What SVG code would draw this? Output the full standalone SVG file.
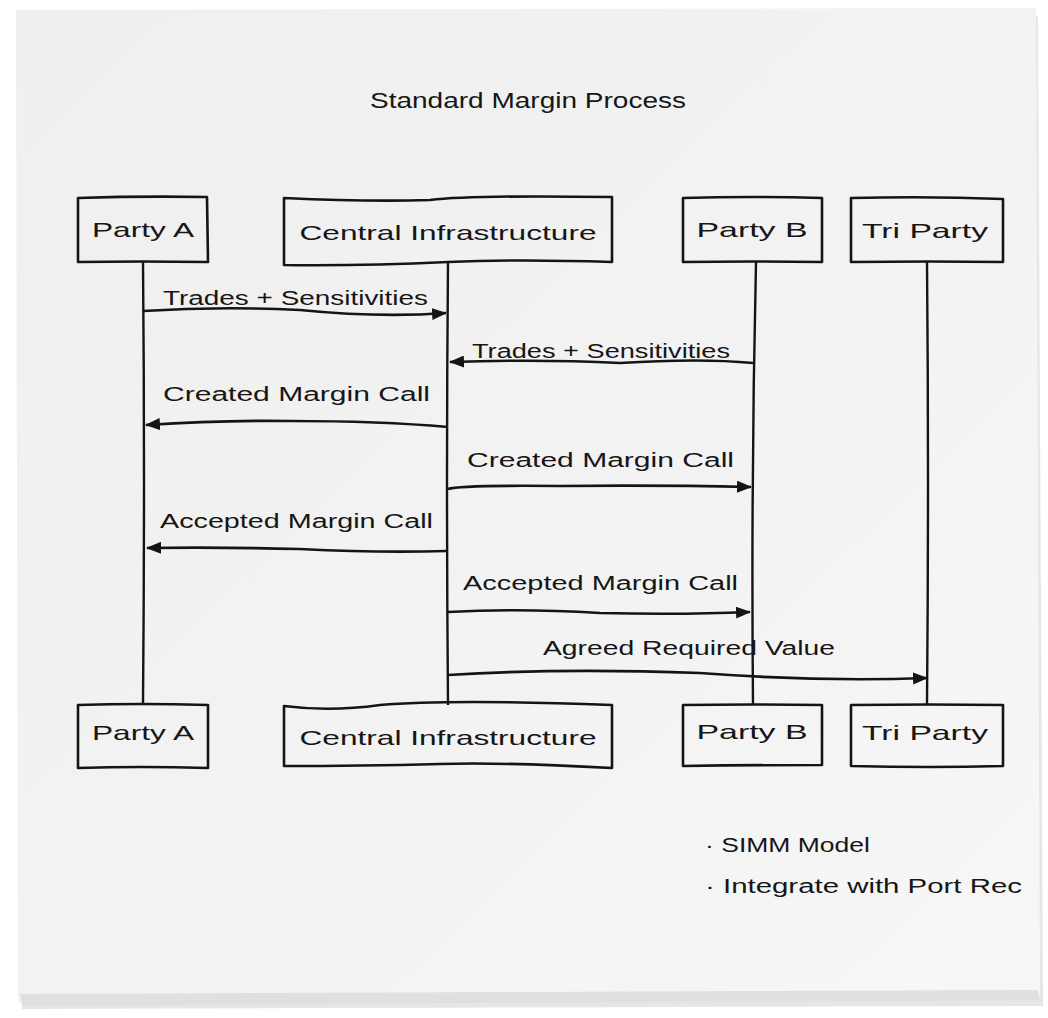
<svg xmlns="http://www.w3.org/2000/svg" width="1048" height="1018" viewBox="0 0 1048 1018">
<style>
.box{fill:none;stroke:#141414;stroke-width:2.6;stroke-linejoin:round}
.life{fill:none;stroke:#141414;stroke-width:2.4}
.msg{fill:none;stroke:#141414;stroke-width:2.6;marker-end:url(#ah)}
text{font-family:"Liberation Sans","DejaVu Sans",sans-serif;fill:#161616}
.lbl{font-size:21px;text-anchor:middle}
.ml{font-size:20px}
</style>
<defs>
<marker id="ah" markerWidth="15" markerHeight="12" refX="14" refY="6" orient="auto" markerUnits="userSpaceOnUse">
<path d="M0,0 L15,6 L0,12 Z" fill="#141414"/>
</marker>
<linearGradient id="nap" x1="0" y1="0" x2="1" y2="1">
<stop offset="0" stop-color="#efefef"/>
<stop offset="0.6" stop-color="#f3f3f3"/>
<stop offset="1" stop-color="#f7f7f7"/>
</linearGradient>
</defs>
<rect x="0" y="0" width="1048" height="1018" fill="#ffffff"/>
<g id="napkin">
<path d="M18,12 L1036,10 L1041,1000 L20,1003 Z" fill="#c9c7c5" transform="translate(2,6)" opacity="0.45"/>
<path d="M16,10 L1036,8 L1040,998 L18,1003 Z" fill="url(#nap)"/>
<path d="M20,994 L1038,990 L1040,1000 L22,1006 Z" fill="#e2e0de"/>
</g>
<text x="528" y="108" style="font-size:22px;text-anchor:middle" textLength="316" lengthAdjust="spacingAndGlyphs">Standard Margin Process</text>
<g id="connectors">
<path class="life" d="M143,262 Q145,480 143,705"/>
<path class="life" d="M448,262 Q446,480 448,705"/>
<path class="life" d="M756,262 Q751,480 753,705"/>
<path class="life" d="M927,262 Q929,480 927,705"/>
<path class="msg" d="M143,311 Q220,306 300,310 Q380,318 446,313"/>
<path class="msg" d="M753,363 Q700,358 620,363 Q540,359 450,362"/>
<path class="msg" d="M448,427 Q380,421 290,421 Q220,420 146,425"/>
<path class="msg" d="M448,489 Q460,485 560,486 Q660,485 751,487"/>
<path class="msg" d="M446,551 Q380,553 300,549 Q220,547 147,548"/>
<path class="msg" d="M448,612 Q520,608 600,613 Q680,615 750,612"/>
<path class="msg" d="M448,675 Q560,668 700,673 Q820,682 927,678"/>
</g>
<g id="m1"><text class="ml" x="163" y="305" textLength="265" lengthAdjust="spacingAndGlyphs">Trades + Sensitivities</text></g>
<g id="m2"><text class="ml" x="472" y="358" textLength="258" lengthAdjust="spacingAndGlyphs">Trades + Sensitivities</text></g>
<g id="m3"><text class="ml" x="163" y="401" textLength="267" lengthAdjust="spacingAndGlyphs">Created Margin Call</text></g>
<g id="m4"><text class="ml" x="467" y="467" textLength="267" lengthAdjust="spacingAndGlyphs">Created Margin Call</text></g>
<g id="m5"><text class="ml" x="160" y="528" textLength="273" lengthAdjust="spacingAndGlyphs">Accepted Margin Call</text></g>
<g id="m6"><text class="ml" x="463" y="590" textLength="275" lengthAdjust="spacingAndGlyphs">Accepted Margin Call</text></g>
<g id="m7"><text class="ml" x="543" y="655" textLength="292" lengthAdjust="spacingAndGlyphs">Agreed Required Value</text></g>
<g id="partyA-top">
<path class="box" d="M78,198 Q140,196 207,197 L208,262 Q140,261 78,262 Z"/>
<text class="lbl" x="143" y="237" textLength="102" lengthAdjust="spacingAndGlyphs">Party A</text>
</g>
<g id="central-top">
<path class="box" d="M284,198 Q370,202 430,200 Q470,195 612,197 L612,262 Q520,259 448,262 Q360,266 284,265 Z"/>
<text class="lbl" x="448" y="240" textLength="297" lengthAdjust="spacingAndGlyphs">Central Infrastructure</text>
</g>
<g id="partyB-top">
<path class="box" d="M683,198 Q750,196 822,198 L822,262 Q750,261 683,262 Z"/>
<text class="lbl" x="752" y="237" textLength="111" lengthAdjust="spacingAndGlyphs">Party B</text>
</g>
<g id="triparty-top">
<path class="box" d="M851,198 Q930,196 1003,199 L1003,262 Q930,261 851,262 Z"/>
<text class="lbl" x="925" y="238" textLength="126" lengthAdjust="spacingAndGlyphs">Tri Party</text>
</g>
<g id="partyA-bottom">
<path class="box" d="M78,705 Q140,703 208,705 L208,768 Q140,766 78,768 Z"/>
<text class="lbl" x="143" y="740" textLength="102" lengthAdjust="spacingAndGlyphs">Party A</text>
</g>
<g id="central-bottom">
<path class="box" d="M284,706 Q330,712 380,705 Q450,699 612,705 L612,768 Q500,762 440,764 Q360,766 284,766 Z"/>
<text class="lbl" x="448" y="745" textLength="297" lengthAdjust="spacingAndGlyphs">Central Infrastructure</text>
</g>
<g id="partyB-bottom">
<path class="box" d="M683,705 Q750,704 822,705 L822,765 Q750,765 683,766 Z"/>
<text class="lbl" x="752" y="739" textLength="111" lengthAdjust="spacingAndGlyphs">Party B</text>
</g>
<g id="triparty-bottom">
<path class="box" d="M851,705 Q930,704 1003,705 L1003,766 Q930,768 851,766 Z"/>
<text class="lbl" x="925" y="740" textLength="126" lengthAdjust="spacingAndGlyphs">Tri Party</text>
</g>
<g id="notes">
<text class="ml" x="705" y="852" textLength="165" lengthAdjust="spacingAndGlyphs">· SIMM Model</text>
<text class="ml" x="705" y="893" textLength="317" lengthAdjust="spacingAndGlyphs">· Integrate with Port Rec</text>
</g>
</svg>
